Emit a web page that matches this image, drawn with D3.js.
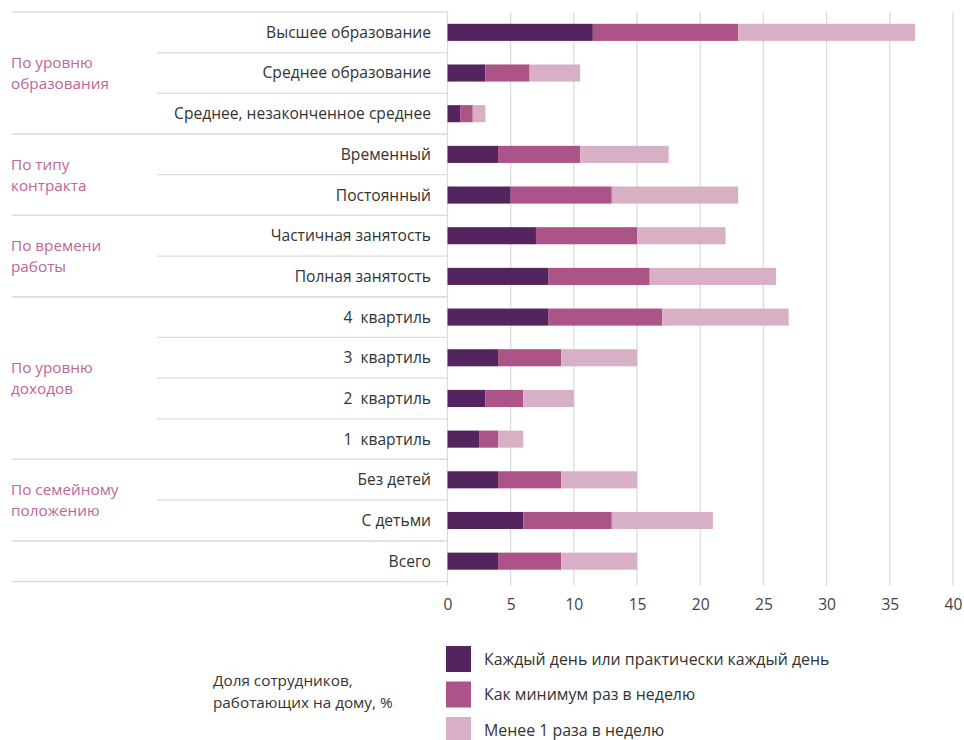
<!DOCTYPE html>
<html>
<head>
<meta charset="utf-8">
<script src="https://cdn.jsdelivr.net/npm/d3@7"></script>
<style>
  body { margin: 0; background: #fff; }
  svg { font-family: "Open Sans", "Noto Sans", sans-serif; }
</style>
</head>
<body>
<svg width="964" height="740"></svg>
<script>
// Категории (сверху вниз)
const categories = [
  "Высшее образование", "Среднее образование", "Среднее, незаконченное среднее",
  "Временный", "Постоянный",
  "Частичная занятость", "Полная занятость",
  "4  квартиль", "3  квартиль", "2  квартиль", "1  квартиль",
  "Без детей", "С детьми",
  "Всего"
];

// Группы: название и число строк
const groupNames = [
  ["По уровню", "образования"],
  ["По типу", "контракта"],
  ["По времени", "работы"],
  ["По уровню", "доходов"],
  ["По семейному", "положению"],
  []
];
const groupSizes = [3, 2, 2, 4, 2, 1];

// Значения рядов, %
const seriesNames = [
  "Каждый день или практически каждый день",
  "Как минимум раз в неделю",
  "Менее 1 раза в неделю"
];
const daily  = [11.5, 3, 1, 4, 5, 7, 8, 8, 4, 3, 2.5, 4, 6, 4];
const weekly = [11.5, 3.5, 1, 6.5, 8, 8, 8, 9, 5, 3, 1.5, 5, 7, 5];
const rarely = [14, 4, 1, 7, 10, 7, 10, 10, 6, 4, 2, 6, 8, 6];

const xTicks = [0, 5, 10, 15, 20, 25, 30, 35, 40];
const colors = ["#53245e", "#ac5387", "#d8b0c6"];

const svg = d3.select("svg");

const plotTop = 12, plotBottom = 581.5, plotLeft = 447.5, plotRight = 953;

const x = d3.scaleLinear().domain([0, 40]).range([plotLeft, plotRight]);
const y = d3.scaleBand()
  .domain(categories)
  .range([plotTop, plotBottom])
  .paddingInner(0.58)
  .paddingOuter(0.29);

const rows = categories.map((c, i) => ({ cat: c, vals: [daily[i], weekly[i], rarely[i]] }));
const stack = d3.stack().keys([0, 1, 2]).value((d, k) => d.vals[k]);
const layers = stack(rows);

// Сетка
svg.append("g")
  .selectAll("line")
  .data(xTicks)
  .join("line")
  .attr("x1", d => x(d)).attr("x2", d => x(d))
  .attr("y1", plotTop).attr("y2", plotBottom + 4)
  .attr("stroke", "#dcdcdc")
  .attr("stroke-width", 1.3);

// Разделители строк
const step = y.step();
const boundaries = [];
let start = 0;
groupSizes.forEach(n => {
  for (let k = 0; k <= n; k++) {
    const idx = start + k;
    const full = (k === 0 || k === n);
    boundaries.push({ yy: plotTop + idx * step, full });
  }
  start += n;
});
svg.append("g")
  .selectAll("line")
  .data(boundaries)
  .join("line")
  .attr("x1", d => d.full ? 12 : 157)
  .attr("x2", plotLeft)
  .attr("y1", d => d.yy).attr("y2", d => d.yy)
  .attr("stroke", "#dcdcdc")
  .attr("stroke-width", 1.3);

// Столбцы
svg.append("g")
  .selectAll("g")
  .data(layers)
  .join("g")
  .attr("fill", (d, i) => colors[i])
  .selectAll("rect")
  .data(d => d)
  .join("rect")
  .attr("x", d => x(d[0]))
  .attr("width", d => x(d[1]) - x(d[0]))
  .attr("y", d => y(d.data.cat))
  .attr("height", y.bandwidth());

// Подписи категорий
svg.append("g")
  .selectAll("text")
  .data(categories)
  .join("text")
  .attr("x", 431)
  .attr("y", d => y(d) + y.bandwidth() / 2)
  .attr("dy", "0.35em")
  .attr("text-anchor", "end")
  .style("white-space", "pre")
  .style("font-size", "15.6px")
  .attr("fill", "#333")
  .text(d => d);

// Подписи групп
start = 0;
groupSizes.forEach((n, gi) => {
  const cy = plotTop + (start + n / 2) * step;
  const lines = groupNames[gi];
  lines.forEach((t, li) => {
    svg.append("text")
      .attr("x", 11)
      .attr("y", cy + (li - (lines.length - 1) / 2) * 21)
      .attr("dy", "0.35em")
      .style("font-size", "15.3px")
      .attr("fill", "#bf6496")
      .text(t);
  });
  start += n;
});

// Ось X
const xAxis = svg.append("g")
  .attr("transform", `translate(0,${plotBottom})`)
  .call(d3.axisBottom(x).tickValues(xTicks).tickSize(0).tickPadding(17));
xAxis.select(".domain").remove();
xAxis.selectAll("text")
  .style("font-size", "15.6px")
  .style("font-family", "\"Open Sans\", sans-serif")
  .attr("fill", "#444");

// Легенда
const legend = svg.append("g");
seriesNames.forEach((name, i) => {
  const gy = 646 + i * 35.5;
  legend.append("rect")
    .attr("x", 446).attr("y", gy)
    .attr("width", 25).attr("height", 26)
    .attr("fill", colors[i]);
  legend.append("text")
    .attr("x", 484).attr("y", gy + 13)
    .attr("dy", "0.35em")
    .style("font-size", "15.9px")
    .attr("fill", "#333")
    .text(name);
});

// Подпись оси
["Доля сотрудников,", "работающих на дому, %"].forEach((t, i) => {
  svg.append("text")
    .attr("x", 213).attr("y", 681 + i * 22)
    .attr("dy", "0.35em")
    .style("font-size", "15.3px")
    .attr("fill", "#333")
    .text(t);
});
</script>
</body>
</html>
